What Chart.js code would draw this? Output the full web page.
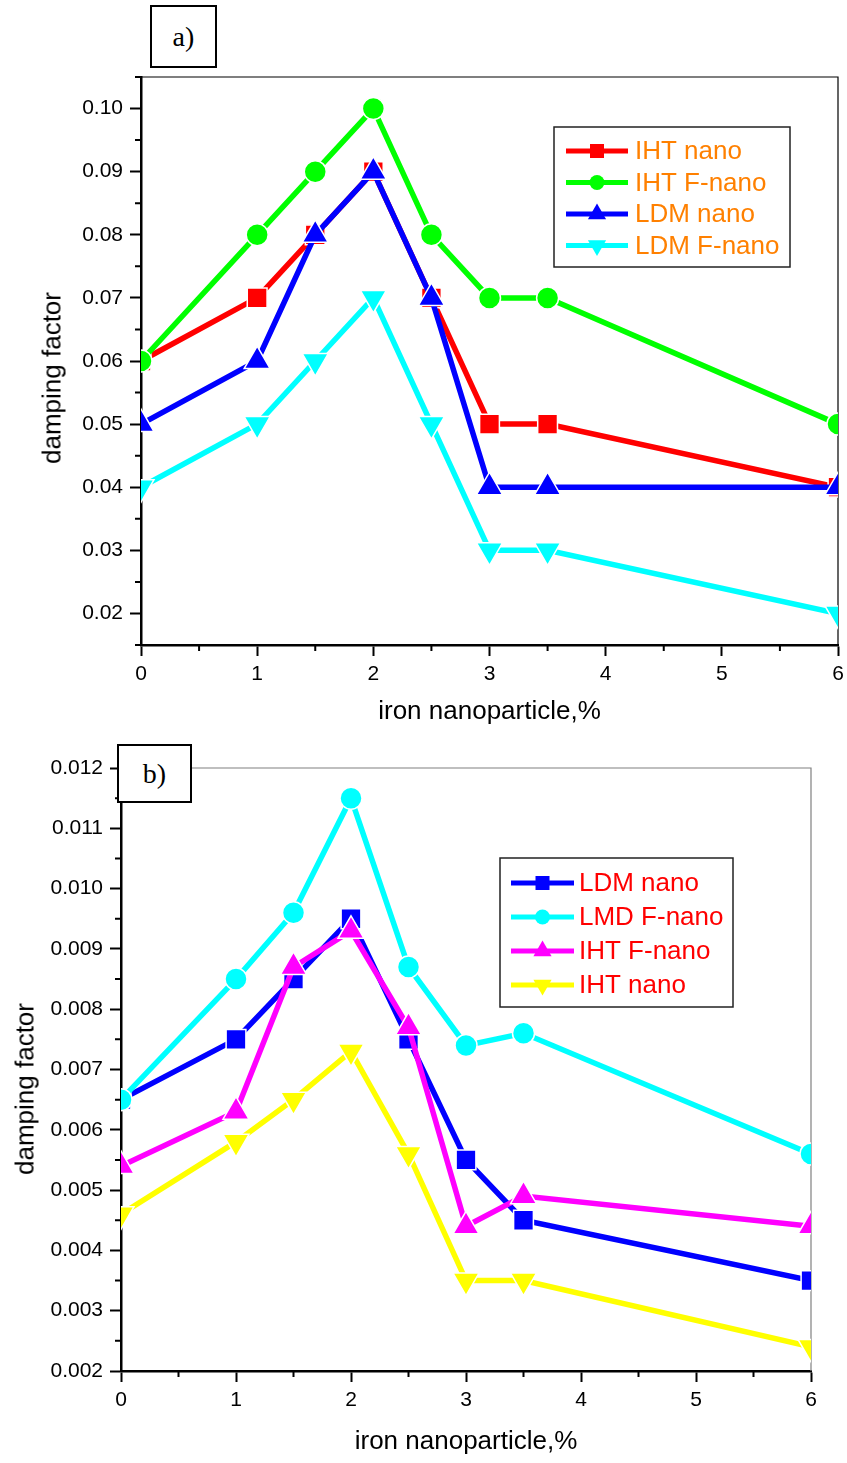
<!DOCTYPE html>
<html>
<head>
<meta charset="utf-8">
<script src="https://cdn.jsdelivr.net/npm/chart.js@4.4.1/dist/chart.umd.min.js"></script>
<style>
  html, body { margin: 0; padding: 0; background: #fff; overflow: hidden; }
  #page { position: relative; width: 847px; height: 1463px; overflow: hidden; }
  canvas { position: absolute; left: 0; }
  #chartA { top: 0; }
  #chartB { top: 730px; }
  .tag {
    position: absolute; box-sizing: border-box; border: 2px solid #000; background: #fff;
    font-family: "Liberation Serif", "Times New Roman", serif; font-size: 28px;
    display: flex; align-items: center; justify-content: center;
  }
  .ytitle {
    position: absolute; font-family: "Liberation Sans", Arial, sans-serif; font-size: 26px;
    white-space: nowrap; transform: translate(-50%, -50%) rotate(-90deg);
  }
</style>
</head>
<body>
<div id="page">
  <canvas id="chartA" width="870" height="730"></canvas>
  <canvas id="chartB" width="870" height="733"></canvas>
  <div class="tag" style="left:150px;top:5px;width:67px;height:63px;">a)</div>
  <div class="tag" style="left:117px;top:744px;width:75px;height:59px;">b)</div>
  <div class="ytitle" style="left:52px;top:378px;">damping factor</div>
  <div class="ytitle" style="left:25px;top:1089px;">damping factor</div>
</div>
<script>
  // shared x positions (iron nanoparticle, %)
  var xValues = [0, 1, 1.5, 2, 2.5, 3, 3.5, 6];
  var xTicks = [0, 1, 2, 3, 4, 5, 6];
  var xMinorTicks = [0.5, 1.5, 2.5, 3.5, 4.5, 5.5];

  // chart a)
  var aIhtNano = [0.06, 0.07, 0.08, 0.09, 0.07, 0.05, 0.05, 0.04];
  var aIhtFNano = [0.06, 0.08, 0.09, 0.10, 0.08, 0.07, 0.07, 0.05];
  var aLdmNano = [0.05, 0.06, 0.08, 0.09, 0.07, 0.04, 0.04, 0.04];
  var aLdmFNano = [0.04, 0.05, 0.06, 0.07, 0.05, 0.03, 0.03, 0.02];
  var aYTicks = [0.02, 0.03, 0.04, 0.05, 0.06, 0.07, 0.08, 0.09, 0.10];
  var aYMinorTicks = [0.015, 0.025, 0.035, 0.045, 0.055, 0.065, 0.075, 0.085, 0.095, 0.105];

  // chart b)
  var bLdmNano = [0.0065, 0.0075, 0.0085, 0.0095, 0.0075, 0.0055, 0.0045, 0.0035];
  var bLmdFNano = [0.0065, 0.0085, 0.0096, 0.0115, 0.0087, 0.0074, 0.0076, 0.0056];
  var bIhtFNano = [0.0054, 0.0063, 0.0087, 0.0093, 0.0077, 0.0044, 0.0049, 0.0044];
  var bIhtNano = [0.0046, 0.0058, 0.0065, 0.0073, 0.0056, 0.0035, 0.0035, 0.0024];
  var bYTicks = [0.002, 0.003, 0.004, 0.005, 0.006, 0.007, 0.008, 0.009, 0.010, 0.011, 0.012];
  var bYMinorTicks = [0.0025, 0.0035, 0.0045, 0.0055, 0.0065, 0.0075, 0.0085, 0.0095, 0.0105, 0.0115];

  var SANS = "'Liberation Sans', Arial, sans-serif";

  function series(label, values, color, style, radius, rotation, n, i) {
    return {
      label: label,
      data: values.map(function (v, k) { return { x: xValues[k], y: v }; }),
      borderColor: color,
      backgroundColor: color,
      borderWidth: 5.5,
      tension: 0,
      pointStyle: style,
      pointRadius: radius,
      pointRotation: rotation || 0,
      pointBackgroundColor: color,
      pointBorderColor: "#fff",
      pointBorderWidth: 1.5,
      order: n - i
    };
  }

  function drawMarker(c, style, rotation, x, y, color) {
    c.fillStyle = color;
    c.beginPath();
    if (style === "rect") {
      c.rect(x - 7, y - 7, 14, 14);
    } else if (style === "circle") {
      c.arc(x, y, 7.5, 0, Math.PI * 2);
    } else {
      var r = 10.5, d = rotation ? -1 : 1;
      c.moveTo(x, y - d * r);
      c.lineTo(x + r * 0.866, y + d * r / 2);
      c.lineTo(x - r * 0.866, y + d * r / 2);
      c.closePath();
    }
    c.fill();
  }

  var framePlugin = {
    id: "frame",
    beforeDatasetsDraw: function (chart, args, o) {
      var c = chart.ctx, a = chart.chartArea;
      c.save();
      c.strokeStyle = o.color;
      c.lineWidth = 1.2;
      c.beginPath();
      c.moveTo(a.left, a.top);
      c.lineTo(a.right, a.top);
      c.lineTo(a.right, a.bottom);
      c.stroke();
      c.restore();
    }
  };

  var minorTickPlugin = {
    id: "minorTicks",
    afterDraw: function (chart, args, o) {
      var c = chart.ctx, a = chart.chartArea;
      var xs = chart.scales.x, ys = chart.scales.y;
      c.save();
      c.strokeStyle = "#000";
      c.lineWidth = 2;
      c.beginPath();
      o.x.forEach(function (v) {
        var px = xs.getPixelForValue(v);
        c.moveTo(px, a.bottom);
        c.lineTo(px, a.bottom + 6);
      });
      o.y.forEach(function (v) {
        var py = ys.getPixelForValue(v);
        c.moveTo(a.left, py);
        c.lineTo(a.left - 6, py);
      });
      c.stroke();
      c.restore();
    }
  };

  var boxLegendPlugin = {
    id: "boxLegend",
    afterDraw: function (chart, args, o) {
      var c = chart.ctx;
      c.save();
      c.fillStyle = "#fff";
      c.fillRect(o.left, o.top, o.width, o.height);
      c.strokeStyle = "#222";
      c.lineWidth = 1.5;
      c.strokeRect(o.left, o.top, o.width, o.height);
      chart.data.datasets.forEach(function (ds, i) {
        var y = o.top + o.firstRow + i * o.rowStep;
        c.strokeStyle = ds.borderColor;
        c.lineWidth = 5;
        c.beginPath();
        c.moveTo(o.lineX0, y);
        c.lineTo(o.lineX1, y);
        c.stroke();
        drawMarker(c, ds.pointStyle, ds.pointRotation, (o.lineX0 + o.lineX1) / 2, y, ds.borderColor);
        c.fillStyle = o.textColor;
        c.font = "26px " + SANS;
        c.textBaseline = "middle";
        c.textAlign = "left";
        c.fillText(ds.label, o.textX, y + 1);
      });
      c.restore();
    }
  };

  function buildChart(id, cfg) {
    var ctx = document.getElementById(id).getContext("2d");
    return new Chart(ctx, {
      type: "line",
      data: { datasets: cfg.datasets },
      options: {
        responsive: false,
        animation: false,
        layout: { padding: cfg.padding },
        plugins: {
          legend: { display: false },
          tooltip: { enabled: false },
          frame: { color: cfg.frameColor },
          minorTicks: { x: xMinorTicks, y: cfg.yMinor },
          boxLegend: cfg.legend
        },
        scales: {
          x: {
            type: "linear",
            min: 0,
            max: 6,
            afterBuildTicks: function (s) {
              s.ticks = xTicks.map(function (v) { return { value: v }; });
            },
            afterFit: function (s) { s.height = cfg.xHeight; },
            grid: { drawOnChartArea: false, color: "#000", tickLength: 11, tickWidth: 2 },
            border: { color: "#000", width: 2.5 },
            ticks: {
              color: "#000", font: { family: SANS, size: 21 }, padding: 6,
              maxRotation: 0, autoSkip: false,
              callback: function (v) { return String(v); }
            },
            title: {
              display: true, text: "iron nanoparticle,%", color: "#000",
              font: { family: SANS, size: 26 }, padding: { top: 0, bottom: cfg.titlePad }
            }
          },
          y: {
            type: "linear",
            min: cfg.yMin,
            max: cfg.yMax,
            afterBuildTicks: function (s) {
              s.ticks = cfg.yTicks.map(function (v) { return { value: v }; });
            },
            afterFit: function (s) { s.width = cfg.yWidth; },
            grid: { drawOnChartArea: false, color: "#000", tickLength: 11, tickWidth: 2 },
            border: { color: "#000", width: 2.5 },
            ticks: {
              color: "#000", font: { family: SANS, size: 21 }, padding: 7,
              callback: function (v) { return v.toFixed(cfg.decimals); }
            }
          }
        }
      },
      plugins: [framePlugin, minorTickPlugin, boxLegendPlugin]
    });
  }

  // canvases are 870 wide so the plot can reach the right window edge
  buildChart("chartA", {
    datasets: [
      series("IHT nano", aIhtNano, "#ff0000", "rect", 14, 0, 4, 0),
      series("IHT F-nano", aIhtFNano, "#00ff00", "circle", 11, 0, 4, 1),
      series("LDM nano", aLdmNano, "#0000ff", "triangle", 15, 0, 4, 2),
      series("LDM F-nano", aLdmFNano, "#00ffff", "triangle", 15, 180, 4, 3)
    ],
    padding: { left: 0, top: 77, right: 32, bottom: 0 },
    xHeight: 85,
    yWidth: 141,
    titlePad: 3,
    yMin: 0.015,
    yMax: 0.105,
    yTicks: aYTicks,
    yMinor: aYMinorTicks,
    decimals: 2,
    frameColor: "#000",
    legend: {
      left: 554, top: 127, width: 236, height: 140,
      firstRow: 24, rowStep: 31.5, lineX0: 566, lineX1: 628, textX: 635,
      textColor: "#ff8000"
    }
  });

  buildChart("chartB", {
    datasets: [
      series("LDM nano", bLdmNano, "#0000ff", "rect", 14, 0, 4, 0),
      series("LMD F-nano", bLmdFNano, "#00ffff", "circle", 11, 0, 4, 1),
      series("IHT F-nano", bIhtFNano, "#ff00ff", "triangle", 15, 0, 4, 2),
      series("IHT nano", bIhtNano, "#ffff00", "triangle", 15, 180, 4, 3)
    ],
    padding: { left: 0, top: 38, right: 59, bottom: 0 },
    xHeight: 92,
    yWidth: 121,
    titlePad: 6,
    yMin: 0.002,
    yMax: 0.012,
    yTicks: bYTicks,
    yMinor: bYMinorTicks,
    decimals: 3,
    frameColor: "#808080",
    legend: {
      left: 500, top: 128, width: 233, height: 149,
      firstRow: 25, rowStep: 34, lineX0: 511, lineX1: 574, textX: 579,
      textColor: "#ff0000"
    }
  });
</script>
</body>
</html>
